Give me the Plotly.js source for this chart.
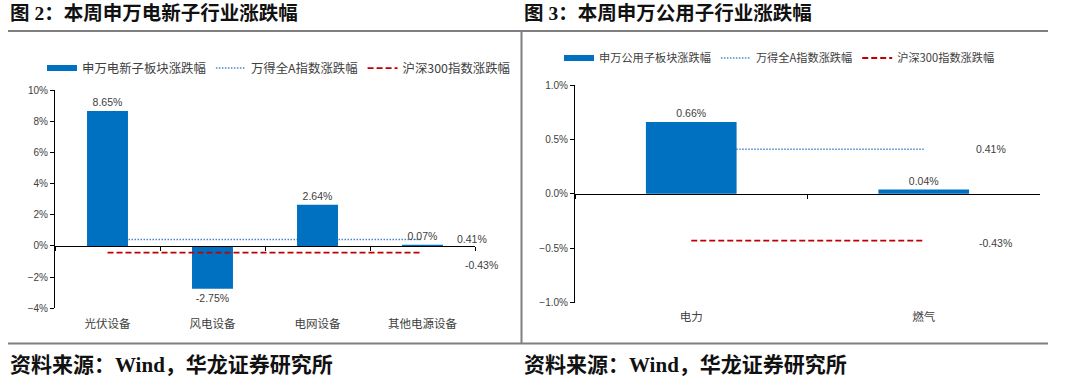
<!DOCTYPE html>
<html>
<head>
<meta charset="utf-8">
<script src="https://cdn.plot.ly/plotly-3.0.1.min.js"></script>
<style>html,body{margin:0;padding:0;background:#fff;}#chart{width:1080px;height:390px;}</style>
</head>
<body>
<div id="chart"></div>
<script>
// ---- data ----
const leftCategories = ['光伏设备', '风电设备', '电网设备', '其他电源设备'];
const leftSector = [8.65, -2.75, 2.64, 0.07];
const leftWindA = [0.41, 0.41, 0.41, 0.41];
const leftHS300 = [-0.43, -0.43, -0.43, -0.43];

const rightCategories = ['电力', '燃气'];
const rightSector = [0.66, 0.04];
const rightWindA = [0.41, 0.41];
const rightHS300 = [-0.43, -0.43];

const windAValue = 0.41;
const hs300Value = -0.43;

const leftTitle = '图 2：本周申万电新子行业涨跌幅';
const rightTitle = '图 3：本周申万公用子行业涨跌幅';
const sourceText = '资料来源：Wind，华龙证券研究所';
const leftSectorName = '申万电新子板块涨跌幅';
const rightSectorName = '申万公用子板块涨跌幅';
const windAName = '万得全A指数涨跌幅';
const hs300Name = '沪深300指数涨跌幅';

// ---- styles ----
const BLUE = '#0070C0';
const DOT = '#4F86C6';
const RED = '#C00000';
const TXT = '#404040';
const FONT = 'Liberation Sans, Noto Sans CJK SC, sans-serif';
const CJK = 'Noto Sans CJK SC, Liberation Sans, sans-serif';
const W = 1080, H = 390;
const px = v => v / W;
const py = v => 1 - v / H;

function lineTrace(x, y, name, color, dash, width, xa, ya, lg, rank) {
  return {type: 'scatter', mode: 'lines', x: x, y: y, name: name, xaxis: xa, yaxis: ya,
    line: {color: color, dash: dash, width: width}, legend: lg, legendrank: rank, hoverinfo: 'skip'};
}
function barTrace(x, y, xa, ya) {
  return {type: 'bar', x: x, y: y, xaxis: xa, yaxis: ya, marker: {color: BLUE}, width: 0.39,
    showlegend: false, text: y.map(v => v.toFixed(2) + '%'), textposition: 'outside',
    textfont: {size: 10.5, color: TXT, family: FONT}, cliponaxis: false, constraintext: 'none', hoverinfo: 'skip'};
}
function legendProxy(name, xa, ya, lg) {
  return {type: 'scatter', mode: 'lines', x: [null], y: [null], name: name, xaxis: xa, yaxis: ya,
    line: {color: BLUE, width: 6}, legend: lg, legendrank: 1, hoverinfo: 'skip'};
}

const DOTDASH = '1.5px,1.5px';
const REDDASH = '6px,3px';

const data = [
  // base subplots: index line drawn beneath bars
  lineTrace(leftCategories, leftWindA, windAName, DOT, DOTDASH, 1.5, 'x', 'y', 'legend', 2),
  lineTrace(rightCategories, rightWindA, windAName, DOT, DOTDASH, 1.5, 'x2', 'y2', 'legend2', 2),
  // overlay subplots: bars and HS300 line on top
  barTrace(leftCategories, leftSector, 'x3', 'y3'),
  lineTrace(leftCategories, leftHS300, hs300Name, RED, REDDASH, 1.8, 'x3', 'y3', 'legend', 3),
  legendProxy(leftSectorName, 'x3', 'y3', 'legend'),
  barTrace(rightCategories, rightSector, 'x4', 'y4'),
  lineTrace(rightCategories, rightHS300, hs300Name, RED, REDDASH, 1.8, 'x4', 'y4', 'legend2', 3),
  legendProxy(rightSectorName, 'x4', 'y4', 'legend2')
];

const leftXDomain = [px(55), px(475)];
const rightXDomain = [px(575), px(1040)];
const leftYDomain = [py(308.3), py(90)];
const rightYDomain = [py(302.7), py(85)];
const leftZero = leftYDomain[0] + (4 / 14) * (leftYDomain[1] - leftYDomain[0]);
const rightZero = (rightYDomain[0] + rightYDomain[1]) / 2;

const catAxis = (domain, cats, pos, standoff) => ({
  domain: domain, anchor: 'free', position: pos, type: 'category', categoryarray: cats, categoryorder: 'array',
  range: [-0.5, cats.length - 0.5], showline: true, linecolor: '#000', linewidth: 1,
  ticks: 'outside', tickson: 'boundaries', ticklen: 4, tickcolor: '#000', showgrid: false, zeroline: false,
  tickfont: {size: 11.5, color: TXT, family: CJK}, ticklabelstandoff: standoff, fixedrange: true
});
const hiddenCat = (overlay, domain, cats) => ({
  overlaying: overlay, domain: domain, anchor: 'free', position: 0, type: 'category',
  categoryarray: cats, categoryorder: 'array', range: [-0.5, cats.length - 0.5],
  showline: false, ticks: '', showticklabels: false, showgrid: false, zeroline: false, fixedrange: true
});
const valAxis = (domain, anchor, range, dtick, fmt) => ({
  domain: domain, anchor: anchor, range: range, dtick: dtick, tickformat: fmt, ticksuffix: '%',
  showline: true, linecolor: '#000', linewidth: 1, ticks: 'outside', ticklen: 4, tickcolor: '#000',
  showgrid: false, zeroline: false, tickfont: {size: 10, color: TXT, family: FONT}, fixedrange: true
});
const hiddenVal = (overlay, range) => ({
  overlaying: overlay, range: range, showline: false, ticks: '', showticklabels: false,
  showgrid: false, zeroline: false, fixedrange: true
});

const annFont = {size: 10.5, color: TXT, family: FONT};
const titleFont = {size: 19.5, color: '#111', family: 'Liberation Serif, Noto Sans CJK SC, serif', weight: 'bold'};
const footFont = {size: 21, color: '#111', family: 'Liberation Serif, Noto Sans CJK SC, serif', weight: 'bold'};

const layout = {
  width: W, height: H,
  margin: {l: 0, r: 0, t: 0, b: 0},
  paper_bgcolor: '#fff', plot_bgcolor: 'rgba(0,0,0,0)',
  font: {family: FONT, color: TXT},
  showlegend: true,
  xaxis: catAxis(leftXDomain, leftCategories, leftZero, 67),
  yaxis: valAxis(leftYDomain, 'x', [-4, 10], 2, 'd'),
  xaxis3: hiddenCat('x', leftXDomain, leftCategories),
  yaxis3: hiddenVal('y', [-4, 10]),
  xaxis2: catAxis(rightXDomain, rightCategories, rightZero, 112),
  yaxis2: valAxis(rightYDomain, 'x2', [-1, 1], 0.5, '.1f'),
  xaxis4: hiddenCat('x2', rightXDomain, rightCategories),
  yaxis4: hiddenVal('y2', [-1, 1]),
  legend: {orientation: 'h', x: px(42), y: py(68.5), xanchor: 'left', yanchor: 'middle',
    font: {size: 12.4, color: TXT, family: CJK}, itemwidth: 30, tracegroupgap: 0, bgcolor: 'rgba(0,0,0,0)'},
  legend2: {orientation: 'h', x: px(559), y: py(58), xanchor: 'left', yanchor: 'middle',
    font: {size: 11.2, color: TXT, family: CJK}, itemwidth: 30, tracegroupgap: 0, bgcolor: 'rgba(0,0,0,0)'},
  annotations: [
    {xref: 'paper', yref: 'paper', x: px(8), y: py(14), xanchor: 'left', yanchor: 'middle', showarrow: false, text: leftTitle, font: titleFont},
    {xref: 'paper', yref: 'paper', x: px(522), y: py(14), xanchor: 'left', yanchor: 'middle', showarrow: false, text: rightTitle, font: titleFont},
    {xref: 'paper', yref: 'paper', x: px(8), y: py(365), xanchor: 'left', yanchor: 'middle', showarrow: false, text: sourceText, font: footFont},
    {xref: 'paper', yref: 'paper', x: px(522), y: py(365), xanchor: 'left', yanchor: 'middle', showarrow: false, text: sourceText, font: footFont},
    {xref: 'x', yref: 'y', x: 3.47, y: windAValue, showarrow: false, text: windAValue.toFixed(2) + '%', font: annFont, yshift: 1},
    {xref: 'x', yref: 'y', x: 3.5, y: hs300Value, showarrow: false, text: hs300Value.toFixed(2) + '%', font: annFont, xshift: 6, yshift: -12},
    {xref: 'x2', yref: 'y2', x: 1.29, y: windAValue, showarrow: false, text: windAValue.toFixed(2) + '%', font: annFont},
    {xref: 'x2', yref: 'y2', x: 1.31, y: hs300Value, showarrow: false, text: hs300Value.toFixed(2) + '%', font: annFont, yshift: -2}
  ],
  shapes: [
    {type: 'line', xref: 'paper', yref: 'paper', x0: px(8), x1: px(1048), y0: py(31), y1: py(31), line: {color: '#7f7f7f', width: 2}},
    {type: 'line', xref: 'paper', yref: 'paper', x0: px(8), x1: px(1048), y0: py(343.5), y1: py(343.5), line: {color: '#7f7f7f', width: 2}},
    {type: 'line', xref: 'paper', yref: 'paper', x0: px(521.5), x1: px(521.5), y0: py(31), y1: py(343.5), line: {color: '#7f7f7f', width: 2}}
  ]
};

Plotly.newPlot('chart', data, layout, {staticPlot: true, displayModeBar: false});
</script>
</body>
</html>
